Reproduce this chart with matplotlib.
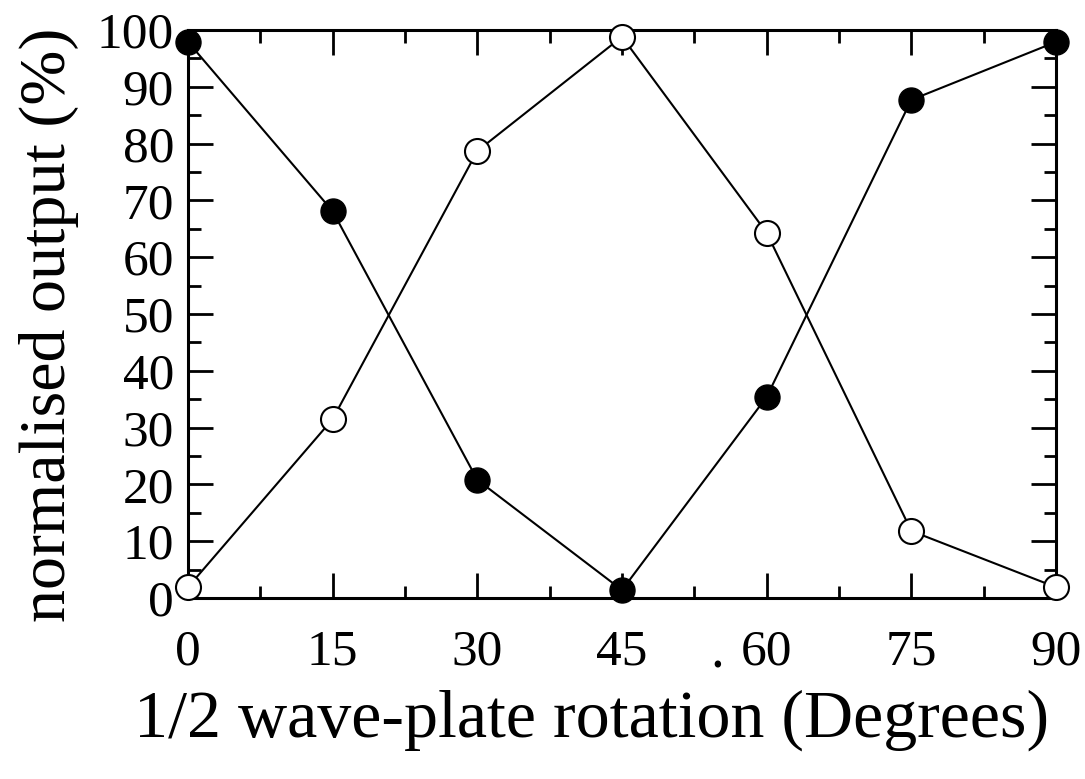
import matplotlib
matplotlib.use("Agg")
import matplotlib.pyplot as plt
from matplotlib.ticker import MultipleLocator
from matplotlib.transforms import blended_transform_factory

# wave-plate rotation (degrees)
angles = [0, 15, 30, 45, 60, 75, 90]
# normalised output (%) for the two ports
filled_output = [97.9, 68.1, 20.8, 1.4, 35.4, 87.7, 97.9]
open_output = [1.9, 31.5, 78.7, 98.8, 64.3, 11.8, 1.9]

plt.rcParams["font.family"] = ["Liberation Serif", "DejaVu Serif"]

fig = plt.figure(figsize=(10.85, 7.79), dpi=100)
ax = fig.add_axes([188 / 1085, 1 - 598 / 779, (1056 - 188) / 1085, (598 - 30) / 779])

ax.plot(angles, filled_output, color="black", lw=1.5, marker="o", ms=18,
        mfc="black", mec="black", clip_on=False, zorder=3)
ax.plot(angles, open_output, color="black", lw=1.5, marker="o", ms=18,
        mfc="white", mec="black", mew=1.5, clip_on=False, zorder=3)

ax.set_xlim(0, 90)
ax.set_ylim(0, 100)
ax.xaxis.set_major_locator(MultipleLocator(15))
ax.xaxis.set_minor_locator(MultipleLocator(7.5))
ax.yaxis.set_major_locator(MultipleLocator(10))
ax.yaxis.set_minor_locator(MultipleLocator(5))
ax.tick_params(which="both", direction="in", top=True, right=True, width=2,
               labelsize=37, colors="black")
ax.tick_params(which="major", length=18)
ax.tick_params(which="minor", length=9)
ax.tick_params(axis="x", which="major", pad=22)
ax.tick_params(axis="y", which="major", pad=10)
for s in ax.spines.values():
    s.set_linewidth(2.2)

ax.set_xlabel("1/2 wave-plate rotation (Degrees)", fontsize=49, va="center")
ax.xaxis.set_label_coords(0.465, -0.215)
ax.set_ylabel("normalised output (%)", fontsize=47.5, va="center")
ax.yaxis.set_label_coords(-0.16, 0.481)

# stray dot in front of the 60 label
trans = blended_transform_factory(ax.transData, ax.transAxes)
ax.text(54.9, -0.122, ".", transform=trans, fontsize=40, ha="center", va="baseline")

fig.savefig("out.png", dpi=100)
